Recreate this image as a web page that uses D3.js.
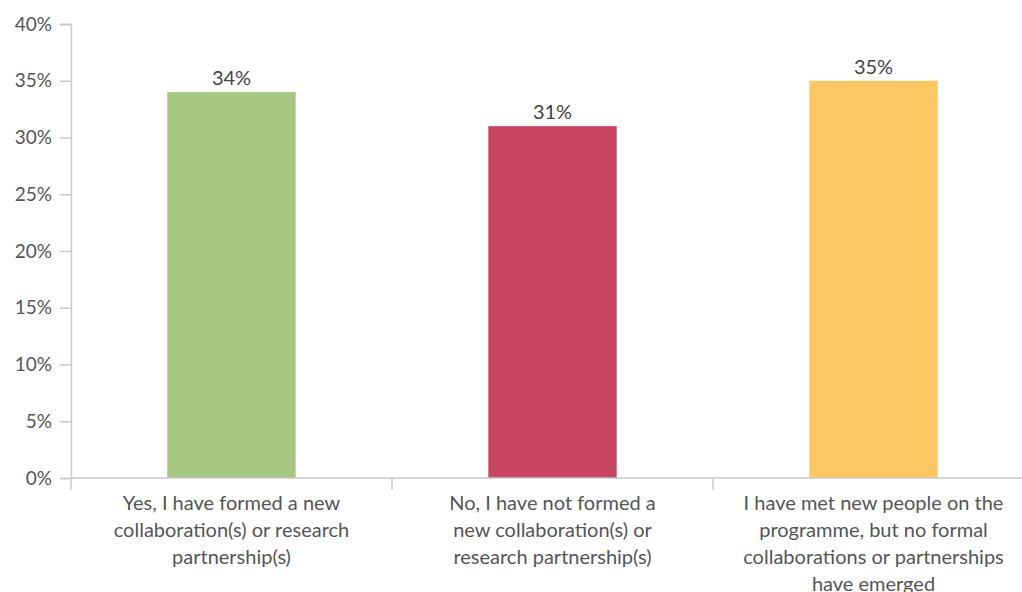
<!DOCTYPE html>
<html>
<head>
<meta charset="utf-8">
<script src="https://cdn.jsdelivr.net/npm/d3@7"></script>
<style>
  body { margin: 0; background: #fff; }
  svg { font-family: "Lato", "Open Sans", sans-serif; }
</style>
</head>
<body>
<div id="chart"></div>
<script>
let w = 1022;
let h = 592;

let categories = [
    ["Yes, I have formed a new", "collaboration(s) or research", "partnership(s)"],
    ["No, I have not formed a", "new collaboration(s) or", "research partnership(s)"],
    ["I have met new people on the", "programme, but no formal", "collaborations or partnerships", "have emerged"]
];
let values = [34, 31, 35];
let colors = ["#a5c77f", "#c94663", "#fcc663"];
let yTicks = [0, 5, 10, 15, 20, 25, 30, 35, 40];

let plotLeft = 71;
let plotRight = 1034;
let plotTop = 24;
let plotBottom = 478;

let svg = d3.select("#chart")
    .append("svg")
    .attr("width", w)
    .attr("height", h);

let x = d3.scaleBand()
    .domain(d3.range(values.length))
    .range([plotLeft, plotRight])
    .paddingInner(0.6)
    .paddingOuter(0.3);

let xOuter = d3.scaleBand()
    .domain(d3.range(values.length))
    .range([plotLeft, plotRight]);

let y = d3.scaleLinear()
    .domain([0, 40])
    .range([plotBottom, plotTop]);

// y axis
let yAxis = svg.append("g")
    .attr("transform", "translate(" + plotLeft + ",0)")
    .call(d3.axisLeft(y).tickValues(yTicks).tickSize(11).tickPadding(8).tickFormat(d => d + "%"));
yAxis.select(".domain").attr("stroke", "#c8c8c8").attr("stroke-width", 1.5);
yAxis.selectAll(".tick line").attr("stroke", "#c8c8c8").attr("stroke-width", 1.5);
yAxis.selectAll(".tick text")
    .attr("font-size", 19)
    .attr("fill", "#555")
    .attr("font-family", "Lato, sans-serif");

// bars
svg.selectAll(".bar")
    .data(values)
    .enter()
    .append("rect")
    .attr("class", "bar")
    .attr("x", (d, i) => x(i))
    .attr("y", d => y(d))
    .attr("width", x.bandwidth())
    .attr("height", d => plotBottom - y(d))
    .attr("fill", (d, i) => colors[i]);

// x axis line and category ticks
svg.append("line")
    .attr("x1", plotLeft)
    .attr("x2", plotRight)
    .attr("y1", plotBottom)
    .attr("y2", plotBottom)
    .attr("stroke", "#c8c8c8")
    .attr("stroke-width", 1.5);

let bounds = d3.range(values.length + 1).map(i => i < values.length ? xOuter(i) : plotRight);
svg.selectAll(".xtick")
    .data(bounds)
    .enter()
    .append("line")
    .attr("x1", d => d)
    .attr("x2", d => d)
    .attr("y1", plotBottom)
    .attr("y2", plotBottom + 12)
    .attr("stroke", "#c8c8c8")
    .attr("stroke-width", 1.5);

// value labels
svg.selectAll(".val")
    .data(values)
    .enter()
    .append("text")
    .attr("x", (d, i) => x(i) + x.bandwidth() / 2)
    .attr("y", d => y(d) - 7)
    .attr("text-anchor", "middle")
    .attr("font-size", 20)
    .attr("fill", "#444")
    .text(d => d + "%");

// category labels
let labels = svg.selectAll(".cat")
    .data(categories)
    .enter()
    .append("text")
    .attr("class", "cat")
    .attr("text-anchor", "middle")
    .attr("font-size", 20)
    .attr("fill", "#555")
    .attr("transform", (d, i) => "translate(" + (xOuter(i) + xOuter.bandwidth() / 2) + "," + (plotBottom + 32) + ")");

labels.selectAll("tspan")
    .data(d => d)
    .enter()
    .append("tspan")
    .attr("x", 0)
    .attr("y", (d, i) => i * 27)
    .text(d => d);
</script>
</body>
</html>
